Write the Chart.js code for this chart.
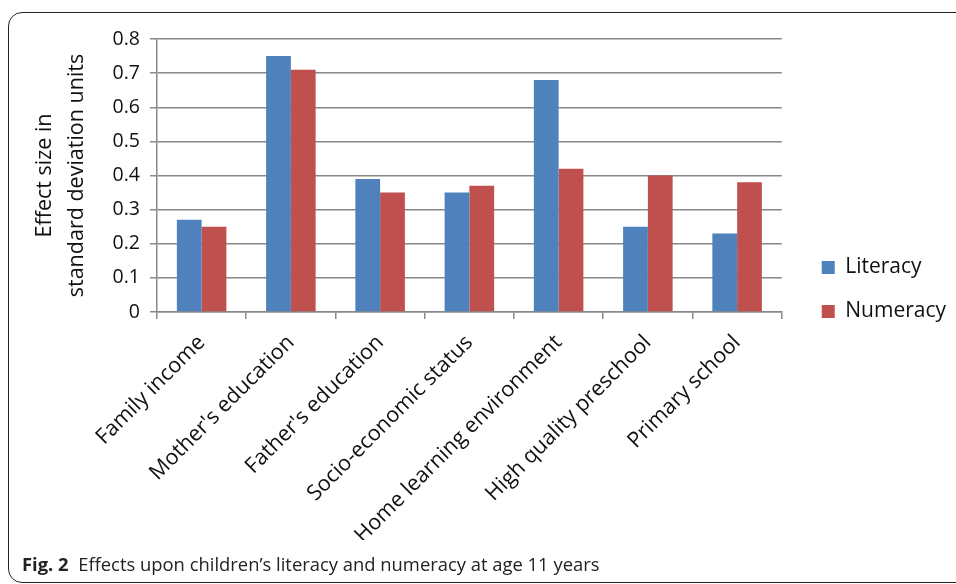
<!doctype html>
<html>

<head>
    <title>Effects</title>
    <meta http-equiv="Content-Type" content="text/html;charset=UTF-8">
    <script src="https://cdn.jsdelivr.net/npm/chart.js@4/dist/chart.umd.min.js"></script>
    <style>
        body { margin: 0; background: #fff; }
        #moldura {
            position: absolute; left: 8px; top: 12px; width: 980px; height: 571px;
            border: 1.5px solid #222; border-radius: 14px; box-sizing: border-box;
        }
        #grafico { position: absolute; left: 0; top: 0; }
        #legenda {
            position: absolute; left: 22px; top: 551px;
            font-family: "Open Sans", sans-serif; font-size: 18.4px; color: #222;
        }
    </style>
</head>

<body>
    <div id="moldura"></div>
    <canvas id="grafico" width="956" height="584"></canvas>
    <div id="legenda"><b>Fig. 2</b>&nbsp; Effects upon children’s literacy and numeracy at age 11 years</div>
</body>
<script>

    var categorias = ["Family income", "Mother's education", "Father's education", "Socio-economic status",
        "Home learning environment", "High quality preschool", "Primary school"];
    var literacia = [0.27, 0.75, 0.39, 0.35, 0.68, 0.25, 0.23];
    var numeracia = [0.25, 0.71, 0.35, 0.37, 0.42, 0.40, 0.38];

    var grafico = {};

    function plota_grafico() {
        var contexto = document.getElementById("grafico");
        var familia = "'Open Sans', sans-serif";

        grafico = new Chart(contexto, {
            type: 'bar',
            data: {
                labels: categorias,
                datasets: [
                    { label: "Literacy", data: literacia, backgroundColor: "#4F81BD" },
                    { label: "Numeracy", data: numeracia, backgroundColor: "#C0504D" }
                ]
            },
            options: {
                responsive: false,
                animation: false,
                datasets: { bar: { categoryPercentage: 0.555, barPercentage: 1 } },
                layout: { padding: { left: 0, top: 39, right: 0, bottom: 44 } },
                plugins: {
                    tooltip: { enabled: false },
                    legend: {
                        position: 'right',
                        labels: {
                            font: { family: familia, size: 21 }, color: "#111", boxWidth: 13, boxHeight: 13,
                            padding: 23
                        }
                    }
                },
                scales: {
                    x: {
                        grid: { drawOnChartArea: false, tickLength: 7, color: "#888", lineWidth: 1.5 },
                        border: { color: "#888", width: 1.5 },
                        ticks: { font: { family: familia, size: 21.5 }, color: "#111", padding: 11,
                            minRotation: 45, maxRotation: 45, autoSkip: false },
                        afterFit: function (s) { s.height = 228; }
                    },
                    y: {
                        min: 0, max: 0.8,
                        grid: { tickLength: 7, color: "#888", lineWidth: 1.5 },
                        border: { color: "#888", width: 1.5 },
                        ticks: { stepSize: 0.1, font: { family: familia, size: 19.5 }, color: "#111", padding: 10,
                            callback: function (v) { return v === 0 ? "0" : v.toFixed(1); } },
                        title: { display: true, text: ["Effect size in", "standard deviation units"],
                            font: { family: familia, size: 21.5, lineHeight: 1.49 }, color: "#111", padding: { top: 29 } },
                        afterFit: function (s) { s.width = 157; }
                    },
                    // espaço entre o gráfico e a legenda
                    espaco: {
                        type: 'linear', position: 'right', display: true,
                        grid: { display: false }, border: { display: false }, ticks: { display: false },
                        afterFit: function (s) { s.width = 17; }
                    }
                }
            }
        });
    }

    plota_grafico();
</script>

</html>
